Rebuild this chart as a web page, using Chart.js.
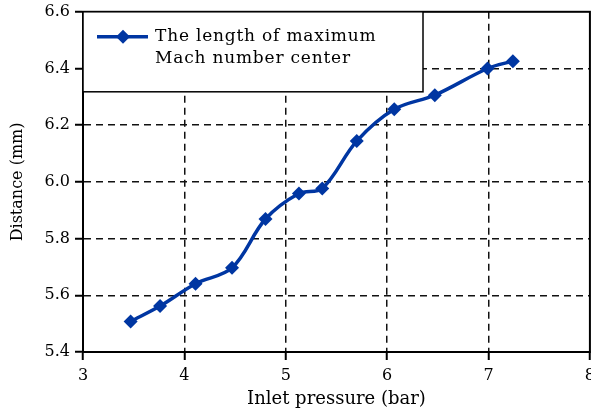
<!DOCTYPE html>
<html>
<head>
<meta charset="utf-8">
<script src="https://cdn.jsdelivr.net/npm/chart.js@4"></script>
<style>
    html, body { margin: 0; padding: 0; background: #fff; }
    #wrap { width: 591px; height: 417px; overflow: hidden; }
</style>
</head>
<body>
<!-- the canvas is a little wider than the window so the last x label gets cut like in the original -->
<div id="wrap"><canvas id="chart" width="601" height="417"></canvas></div>
<script>
// values
const pressure = [3.47, 3.76, 4.11, 4.47, 4.80, 5.13, 5.36, 5.70, 6.07, 6.47, 6.99, 7.24];
const distance = [5.508, 5.562, 5.641, 5.697, 5.869, 5.959, 5.977, 6.144, 6.256, 6.306, 6.400, 6.426];
const xTicks = [3, 4, 5, 6, 7, 8];
const yTicks = [5.4, 5.6, 5.8, 6.0, 6.2, 6.4, 6.6];
const seriesLabel = ['The length of maximum', 'Mach number center'];
const xTitle = 'Inlet pressure (bar)';
const yTitle = 'Distance (mm)';

const blue = '#0036a2';
const serif = "'DejaVu Serif', serif";

// hide the gridlines that sit on the frame
function gridColor(ctx) {
    if (!ctx.tick) return '#000';
    let v = ctx.tick.value;
    if (v === xTicks[0] || v === xTicks[xTicks.length - 1] || v === yTicks[0] || v === yTicks[yTicks.length - 1]) {
        return 'rgba(0,0,0,0)';
    }
    return '#111';
}

const framePlugin = {
    id: 'frame',
    afterDraw(chart) {
        const ctx = chart.ctx;
        const a = chart.chartArea;
        ctx.save();
        ctx.strokeStyle = '#000';
        ctx.lineWidth = 2;
        ctx.strokeRect(a.left, a.top, a.right - a.left, a.bottom - a.top);

        // legend box inside top-left corner
        const bx = a.left, by = a.top, bw = 340, bh = 80;
        ctx.fillStyle = '#fff';
        ctx.fillRect(bx, by, bw, bh);
        ctx.lineWidth = 1.5;
        ctx.strokeRect(bx, by, bw, bh);

        const ds = chart.data.datasets[0];
        const ly = by + 25;
        ctx.strokeStyle = ds.borderColor;
        ctx.lineWidth = ds.borderWidth;
        ctx.beginPath();
        ctx.moveTo(bx + 14, ly);
        ctx.lineTo(bx + 65, ly);
        ctx.stroke();
        ctx.fillStyle = ds.pointBackgroundColor;
        const r = ds.pointRadius;
        ctx.beginPath();
        ctx.moveTo(bx + 40, ly - r);
        ctx.lineTo(bx + 40 + r, ly);
        ctx.lineTo(bx + 40, ly + r);
        ctx.lineTo(bx + 40 - r, ly);
        ctx.closePath();
        ctx.fill();

        ctx.fillStyle = '#000';
        ctx.font = '17px ' + serif;
        ctx.letterSpacing = '0.8px';
        ctx.textBaseline = 'middle';
        ctx.textAlign = 'left';
        seriesLabel.forEach((t, i) => ctx.fillText(t, bx + 72, ly + i * 22));
        ctx.restore();
    }
};

new Chart(document.getElementById('chart'), {
    type: 'line',
    data: {
        datasets: [{
            label: seriesLabel.join(' '),
            data: pressure.map((x, i) => ({ x: x, y: distance[i] })),
            borderColor: blue,
            backgroundColor: blue,
            pointBackgroundColor: blue,
            pointBorderColor: blue,
            borderWidth: 3.5,
            pointStyle: 'rectRot',
            pointRadius: 7,
            pointBorderWidth: 0,
            tension: 0.35,
            fill: false
        }]
    },
    options: {
        responsive: false,
        animation: false,
        events: [],
        layout: { padding: { top: 0, right: 0, left: 0, bottom: 0 } },
        plugins: {
            legend: { display: false },
            tooltip: { enabled: false }
        },
        scales: {
            x: {
                type: 'linear',
                min: xTicks[0],
                max: xTicks[xTicks.length - 1],
                afterBuildTicks(scale) { scale.ticks = xTicks.map(v => ({ value: v })); },
                afterFit(scale) { scale.height = 65; },
                ticks: { color: '#000', font: { family: serif, size: 16 }, padding: 6, maxRotation: 0 },
                grid: { color: gridColor, lineWidth: 1.5, tickLength: 8, tickColor: '#000', tickWidth: 2, tickBorderDash: [] },
                border: { display: true, color: '#000', width: 2, dash: [7, 5] },
                title: { display: true, text: xTitle, color: '#000', font: { family: serif, size: 18 }, padding: { top: 4, bottom: 7 } }
            },
            y: {
                type: 'linear',
                min: yTicks[0],
                max: yTicks[yTicks.length - 1],
                afterBuildTicks(scale) { scale.ticks = yTicks.map(v => ({ value: v })); },
                afterFit(scale) { scale.width = 83; },
                ticks: { color: '#000', font: { family: serif, size: 16, lineHeight: 0.85 }, padding: 5, callback: v => v.toFixed(1) },
                grid: { color: gridColor, lineWidth: 1.5, tickLength: 8, tickColor: '#000', tickWidth: 2, tickBorderDash: [] },
                border: { display: true, color: '#000', width: 2, dash: [7, 5] },
                title: { display: true, text: yTitle, color: '#000', font: { family: serif, size: 16 }, padding: { top: 8, bottom: 4 } }
            }
        }
    },
    plugins: [framePlugin]
});
</script>
</body>
</html>
